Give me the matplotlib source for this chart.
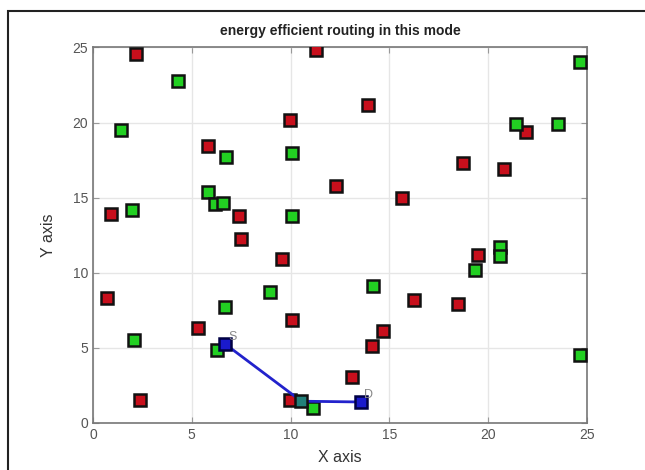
import matplotlib
matplotlib.use("Agg")
import matplotlib.pyplot as plt
from matplotlib.patches import Rectangle

plt.rcParams['font.family'] = ['Liberation Sans', 'DejaVu Sans']

# red nodes (x, y)
red_x = [2.2, 11.3, 13.9, 9.95, 5.8, 18.75, 20.8, 21.9, 12.3, 15.65, 0.9, 7.4,
         7.5, 9.55, 19.5, 0.7, 16.25, 18.5, 5.3, 10.1, 14.7, 14.1, 13.1, 2.4, 9.95]
red_y = [24.55, 24.85, 21.15, 20.2, 18.45, 17.3, 16.9, 19.35, 15.75, 15.0, 13.9, 13.8,
         12.25, 10.9, 11.2, 8.3, 8.2, 7.9, 6.3, 6.85, 6.1, 5.15, 3.05, 1.5, 1.5]

# green nodes
green_x = [4.3, 1.4, 6.75, 10.1, 5.85, 6.2, 6.6, 2.0, 10.1, 24.65, 21.4, 23.55,
           20.6, 20.6, 19.35, 8.95, 14.15, 6.7, 2.1, 6.3, 11.15, 24.65]
green_y = [22.75, 19.5, 17.7, 17.95, 15.4, 14.6, 14.65, 14.2, 13.75, 24.0, 19.9, 19.9,
           11.7, 11.1, 10.2, 8.7, 9.1, 7.75, 5.5, 4.85, 1.0, 4.5]

# routing path: source -> relay -> destination
path_x = [6.7, 10.55, 13.55]
path_y = [5.25, 1.45, 1.4]
path_names = ['S', '', 'D']

fig = plt.figure(figsize=(6.45, 4.70), dpi=100)
ax = fig.add_axes([0.144, 0.100, 0.766, 0.799])

ax.plot(red_x, red_y, 's', color='#c80f1c', mec='#111111', ms=9, mew=1.8, zorder=3)
ax.plot(green_x, green_y, 's', color='#22d022', mec='#111111', ms=9, mew=1.8, zorder=3)

ax.plot(path_x, path_y, '-', color='#2222cc', lw=2.0, zorder=4)
ax.plot(path_x[1:2], path_y[1:2], 's', color='#22807a', mec='#111111', ms=9, mew=1.8, zorder=5)
ax.plot([path_x[0], path_x[-1]], [path_y[0], path_y[-1]], 's', color='#1a1acc',
        mec='#000044', ms=9, mew=1.8, zorder=5)
for px, py, name in zip(path_x, path_y, path_names):
    if name:
        ax.text(px + 0.15, py + 0.25, name, fontsize=9, color='#888888', zorder=6)

ax.set_xlim(0, 25)
ax.set_ylim(0, 25)
ax.set_xticks([0, 5, 10, 15, 20, 25])
ax.set_yticks([0, 5, 10, 15, 20, 25])
ax.grid(True, color='#e6e6e6', lw=1.0)
ax.set_axisbelow(True)
ax.tick_params(direction='in', length=4, colors='#999999', labelcolor='#555555',
               labelsize=10, top=True, right=True)
for s in ax.spines.values():
    s.set_color('#777777')
    s.set_linewidth(1.2)

ax.set_title('energy efficient routing in this mode', fontsize=10, fontweight='bold',
             color='#222222', pad=9)
ax.set_xlabel('X axis', fontsize=11.5, color='#333333', labelpad=6)
ax.set_ylabel('Y axis', fontsize=11.5, color='#333333', labelpad=12)

# window frame
fig.patches.append(Rectangle((8 / 645, -0.1), 1.2, 1.1 - 11 / 470, transform=fig.transFigure,
                             fill=False, edgecolor='#222222', lw=1.5))

fig.savefig('out.png', dpi=100, facecolor='white')
